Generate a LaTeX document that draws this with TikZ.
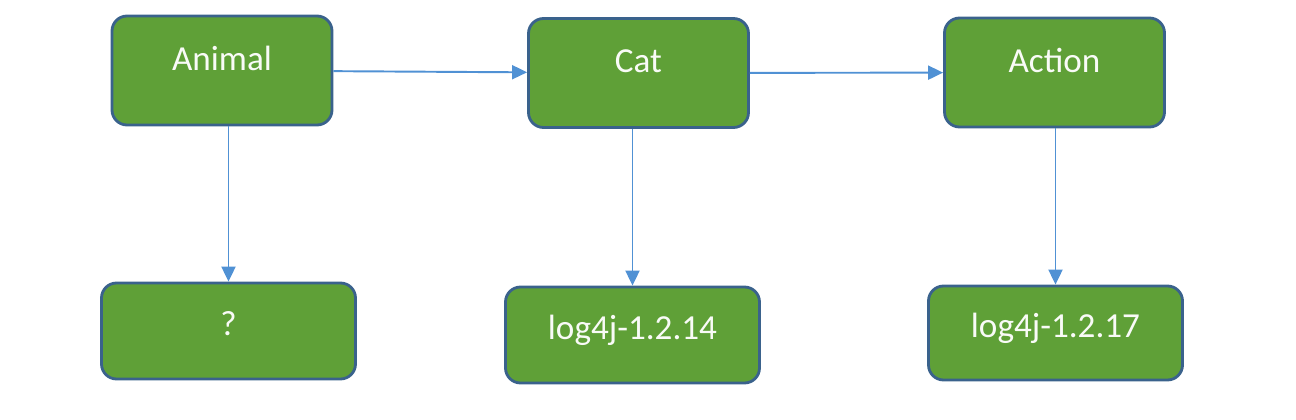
\documentclass[tikz,border=0pt]{standalone}
\usepackage{fontspec}
\setmainfont{Carlito}
\usepackage{xcolor}
\definecolor{BOXCOLOR}{RGB}{95,160,55}
\definecolor{BORDERCOLOR}{RGB}{58,98,140}
\definecolor{LINKCOLOR}{RGB}{80,145,212}
\usetikzlibrary{arrows.meta,positioning,calc}
\tikzset{
  basic-style/.style = {
    rectangle, rounded corners=0.3cm, draw=BORDERCOLOR, line width=1.6pt,
    fill=BOXCOLOR, text=white!96!BOXCOLOR,
    font=\fontsize{20}{24}\selectfont,
    inner sep=0pt
  },
  class-style/.style = {
    basic-style,
    minimum width=4.4cm, minimum height=2.18cm,
    text height=0.4cm, text depth=0.4cm
  },
  jar-style/.style = {
    basic-style,
    minimum width=5.08cm, minimum height=1.92cm,
    text height=0.4cm, text depth=0.22cm
  },
  every edge/.style = {draw=LINKCOLOR, line width=1.1pt,
    -{Triangle[length=0.3cm,width=0.28cm]}}
}
\begin{document}
\begin{tikzpicture}
  \useasboundingbox (0,0) rectangle (25.92,8.4);
  % loaders on top
  \node [class-style] (animal) at (4.44,6.99) {Animal};
  \node [class-style] (cat) at (12.77,6.94) {Cat};
  \node [class-style] (action) at (21.09,6.95) {Action};
  % jars below
  \node [jar-style] (unknown) at (4.57,1.78) {?};
  \node [jar-style] (log14) at (12.65,1.70) {log4j-1.2.14};
  \node [jar-style, minimum height=1.88cm] (log17) at (21.11,1.74) {log4j-1.2.17};

  \path (animal) edge (cat)
        (cat) edge (action);
  \path (unknown |- animal.south) edge (unknown.north)
        (log14 |- cat.south) edge (log14.north)
        (log17 |- action.south) edge (log17.north);
\end{tikzpicture}
\end{document}
